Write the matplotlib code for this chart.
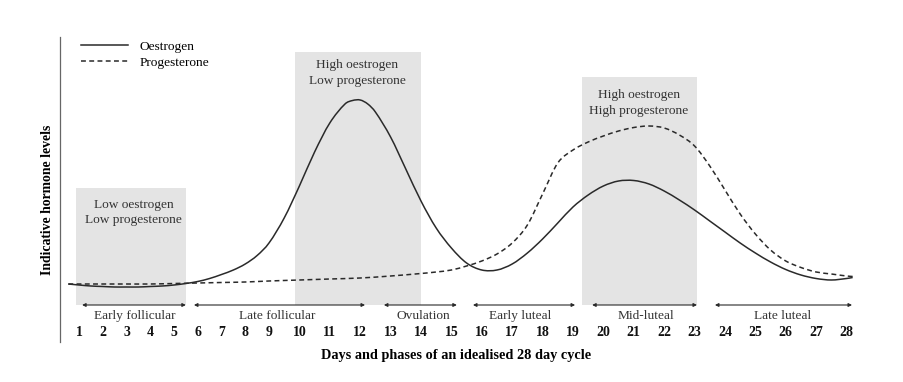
import numpy as np
import matplotlib
matplotlib.use("Agg")
import matplotlib.pyplot as plt
from matplotlib.patches import Rectangle, PathPatch
from matplotlib.path import Path
from matplotlib.lines import Line2D

plt.rcParams['font.family'] = ['Liberation Serif', 'DejaVu Serif']

# ---------------- data ----------------
day_labels = [str(d) for d in range(1, 29)]
days = list(range(1, 29))

oes_days = [0.55, 1.0, 1.5, 2.0, 2.5, 3.0, 3.5, 4.0, 4.5, 5.0, 5.5, 6.0, 6.5, 7.0, 7.5,
            8.0, 8.5, 9.0, 9.5, 10.0, 10.5, 11.0, 11.5, 11.75, 12.0, 12.25, 12.5, 13.0,
            13.5, 14.0, 14.5, 15.0, 15.5, 16.0, 16.5, 17.0, 17.5, 18.0, 18.5, 19.0, 19.5,
            20.0, 20.5, 21.0, 21.5, 22.0, 22.5, 23.0, 23.5, 24.0, 24.5, 25.0, 25.5, 26.0,
            26.5, 27.0, 27.5, 28.0, 28.2]
oes_level = [21, 20, 19, 18.5, 18, 18, 18, 18.5, 19, 20, 21.5, 23.5, 26.5, 30.5, 35,
             41, 49.5, 62, 87, 119, 153, 182, 201, 204.5, 205, 201, 193, 168,
             136, 104, 77, 57, 42, 35, 35, 41, 52, 66, 82, 98, 110,
             119, 124, 124.5, 121, 114, 105, 95, 84, 73, 62, 52, 43, 35.5,
             30, 26.5, 25, 26.5, 27.5]

pro_days = [0.55, 1, 2, 3, 4, 5, 6, 7, 8, 9, 10, 11, 12, 13, 14, 14.5, 15, 15.5, 16,
            16.5, 17, 17.5, 18, 18.5, 19, 19.5, 20, 20.5, 21, 21.5, 22, 22.5, 23, 23.5,
            24, 24.5, 25, 25.5, 26, 26.5, 27, 27.5, 28, 28.2]
pro_level = [21, 21, 21, 21, 21, 21.5, 22, 22.5, 23, 24, 25, 26, 27, 29, 31.5, 33, 35, 39, 44,
             51, 62, 80, 111, 142, 155, 163, 169, 174, 177.5, 179, 177, 170, 159, 139,
             115, 91, 71, 55, 44, 37.5, 33, 31, 29, 28.5]

# shaded hormone-state windows
zone_start = [0.87, 9.85, 19.3]
zone_end = [5.5, 14.0, 23.08]
zone_top = [117, 253, 228]
zone_text = ["Low oestrogen\nLow progesterone",
             "High oestrogen\nLow progesterone",
             "High oestrogen\nHigh progesterone"]
zone_text_x = [3.3, 11.9, 21.17]
zone_text_y = [92.5, 232, 202]

# phases
phase_names = ["Early follicular", "Late follicular", "Ovulation",
               "Early luteal", "Mid-luteal", "Late luteal"]
phase_start = [1.13, 5.84, 12.78, 15.71, 19.63, 23.67]
phase_end = [5.5, 12.16, 15.18, 19.07, 23.08, 28.18]
phase_label_x = [3.36, 9.28, 14.07, 17.26, 21.4, 25.9]

series_names = ["Oestrogen", "Progesterone"]

# ---------------- scale ----------------
def fwd(d):
    d = np.asarray(d, dtype=float)
    return np.where(d <= 9, d, 9 + (d - 9) * 1.28)

def inv(p):
    p = np.asarray(p, dtype=float)
    return np.where(p <= 9, p, 9 + (p - 9) / 1.28)


def smooth_path(xd, yd):
    """Cubic Hermite (smooth) path through the given points."""
    xd = np.asarray(xd, dtype=float)
    y = np.asarray(yd, dtype=float)
    p = fwd(xd)
    n = len(p)
    m = np.empty(n)
    m[1:-1] = (y[2:] - y[:-2]) / (p[2:] - p[:-2])
    m[0] = (y[1] - y[0]) / (p[1] - p[0])
    m[-1] = (y[-1] - y[-2]) / (p[-1] - p[-2])
    verts = [(xd[0], y[0])]
    codes = [Path.MOVETO]
    for i in range(n - 1):
        h = p[i + 1] - p[i]
        c1 = (float(inv(p[i] + h / 3)), y[i] + m[i] * h / 3)
        c2 = (float(inv(p[i + 1] - h / 3)), y[i + 1] - m[i + 1] * h / 3)
        verts += [c1, c2, (xd[i + 1], y[i + 1])]
        codes += [Path.CURVE4] * 3
    return Path(verts, codes)


fig = plt.figure(figsize=(9.04, 3.82), dpi=100)
ax = fig.add_axes([60/904, 1 - 342/382, 820/904, 305/382])
ax.set_xscale('function', functions=(fwd, inv))
ax.set_xlim(0.2, 29.1)
ax.set_ylim(-37, 268)

line_col = '#2a2a2a'
text_col = '#333333'
fs = 9.6

for s, e, t, txt, tx, ty in zip(zone_start, zone_end, zone_top, zone_text, zone_text_x, zone_text_y):
    ax.add_patch(Rectangle((s, 0), e - s, t, facecolor='#e4e4e4', edgecolor='none', zorder=0))
    ax.text(tx, ty, txt, ha='center', va='center', fontsize=fs, color=text_col,
            linespacing=1.4, zorder=3)

ax.add_patch(PathPatch(smooth_path(oes_days, oes_level), fill=False,
                       edgecolor=line_col, lw=1.1, zorder=2))
ax.add_patch(PathPatch(smooth_path(pro_days, pro_level), fill=False,
                       edgecolor=line_col, lw=1.1, linestyle=(0, (3.2, 2.2)), zorder=2))

for s, e, name, lx in zip(phase_start, phase_end, phase_names, phase_label_x):
    ax.annotate('', xy=(e, 0), xytext=(s, 0),
                arrowprops=dict(arrowstyle='<|-|>', color=line_col, lw=0.8,
                                mutation_scale=5, shrinkA=0, shrinkB=0))
    ax.text(lx, -11, name, ha='center', va='center', fontsize=fs, color=text_col)

for d, lab in zip(days, day_labels):
    ax.text(d, -28, lab, ha='center', va='center', fontsize=10,
            fontweight='bold', color='#111111')

ax.set_xticks([])
ax.set_yticks([])
for sp in ['top', 'right', 'bottom']:
    ax.spines[sp].set_visible(False)
ax.spines['left'].set_color('#666666')
ax.spines['left'].set_linewidth(0.9)

fig.text(456/904, 1 - 355/382, "Days and phases of an idealised 28 day cycle",
         fontsize=10.3, fontweight='bold', ha='center', va='center')
ax.set_ylabel("Indicative hormone levels", fontsize=9.9, fontweight='bold')
ax.yaxis.set_label_coords(-0.0075, 0.466)

handles = [Line2D([], [], color=line_col, lw=1.1),
           Line2D([], [], color=line_col, lw=1.1, dashes=(3.2, 2.2))]
ax.legend(handles, series_names, loc='upper left',
          bbox_to_anchor=(0.019, 1.005), frameon=False, fontsize=fs,
          handlelength=3.5, handletextpad=0.9, labelspacing=0.25,
          borderaxespad=0)

fig.savefig("out.png", dpi=100, facecolor='white')
